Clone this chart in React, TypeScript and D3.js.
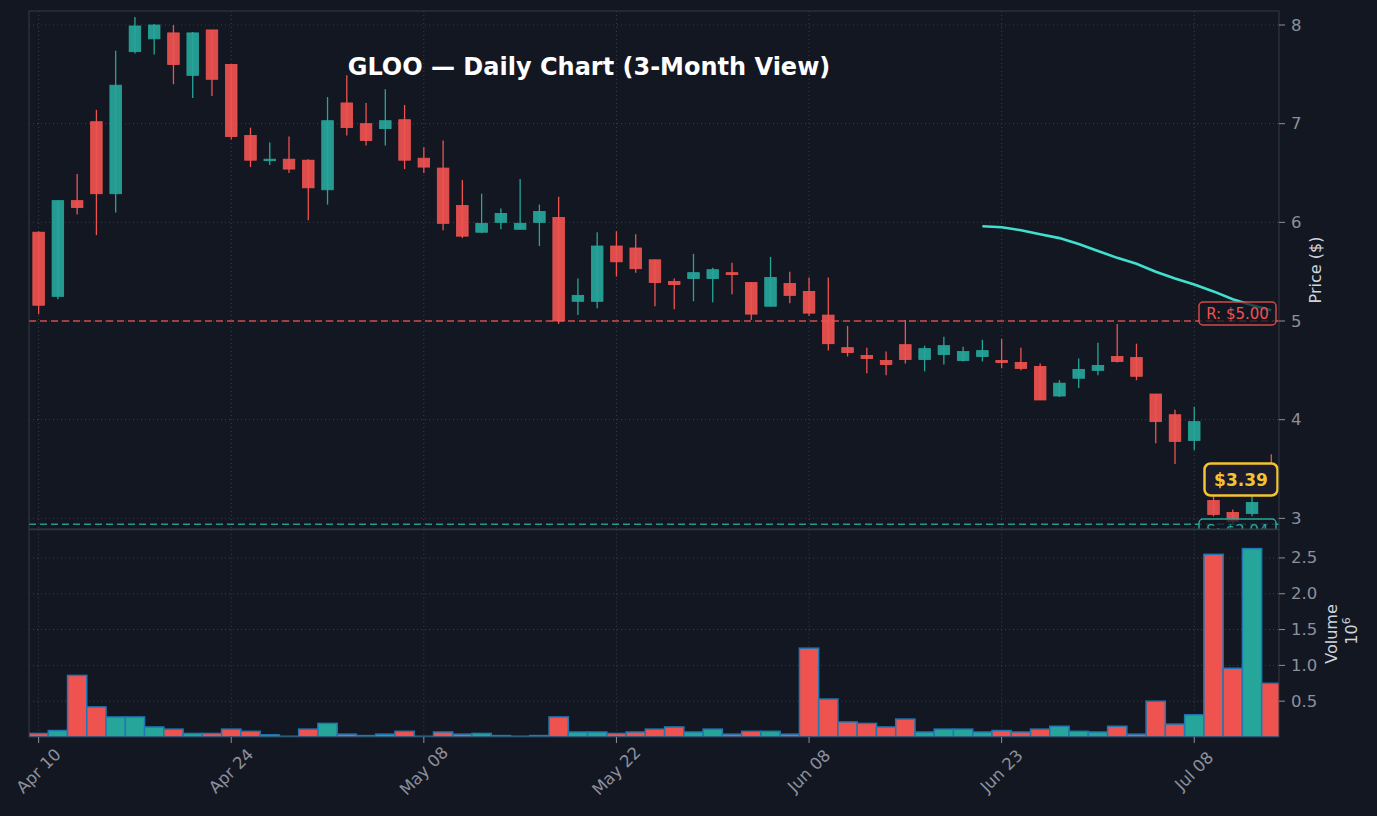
import React from 'react';
import * as d3 from 'd3';

// trading days shown on the chart
const dates = [
  'Apr 10', 'Apr 11', 'Apr 14', 'Apr 15', 'Apr 16', 'Apr 17', 'Apr 18', 'Apr 21', 'Apr 22', 'Apr 23',
  'Apr 24', 'Apr 25', 'Apr 28', 'Apr 29', 'Apr 30', 'May 01', 'May 02', 'May 05', 'May 06', 'May 07',
  'May 08', 'May 09', 'May 12', 'May 13', 'May 14', 'May 15', 'May 16', 'May 19', 'May 20', 'May 21',
  'May 22', 'May 23', 'May 27', 'May 28', 'May 29', 'May 30', 'Jun 02', 'Jun 03', 'Jun 04', 'Jun 05',
  'Jun 08', 'Jun 09', 'Jun 10', 'Jun 11', 'Jun 12', 'Jun 13', 'Jun 16', 'Jun 17', 'Jun 18', 'Jun 20',
  'Jun 23', 'Jun 24', 'Jun 25', 'Jun 26', 'Jun 27', 'Jun 30', 'Jul 01', 'Jul 02', 'Jul 03', 'Jul 07',
  'Jul 08', 'Jul 09', 'Jul 10', 'Jul 11', 'Jul 14',
];

const opens = [
  5.90, 5.25, 6.22, 7.02, 6.29, 7.73, 7.86, 7.92, 7.49, 7.95,
  7.60, 6.88, 6.63, 6.64, 6.63, 6.33, 7.21, 7.00, 6.95, 7.04,
  6.65, 6.55, 6.17, 5.90, 6.00, 5.93, 6.00, 6.05, 5.20, 5.20,
  5.76, 5.74, 5.62, 5.40, 5.43, 5.43, 5.49, 5.39, 5.15, 5.38,
  5.30, 5.06, 4.73, 4.65, 4.60, 4.76, 4.61, 4.66, 4.60, 4.64,
  4.60, 4.58, 4.54, 4.24, 4.42, 4.50, 4.64, 4.63, 4.26, 4.05,
  3.79, 3.18, 3.06, 3.05, 3.52,
];
const highs = [
  5.91, 6.22, 6.49, 7.14, 7.74, 8.08, 8.01, 8.00, 7.93, 7.95,
  7.60, 6.96, 6.81, 6.87, 6.64, 7.27, 7.49, 7.21, 7.35, 7.19,
  6.76, 6.83, 6.43, 6.29, 6.14, 6.44, 6.18, 6.26, 5.43, 5.90,
  5.91, 5.88, 5.62, 5.43, 5.68, 5.54, 5.59, 5.39, 5.65, 5.50,
  5.44, 5.44, 4.95, 4.73, 4.69, 5.01, 4.75, 4.84, 4.74, 4.81,
  4.82, 4.73, 4.57, 4.40, 4.62, 4.78, 4.97, 4.77, 4.26, 4.10,
  4.13, 3.23, 3.09, 3.23, 3.65,
];
const lows = [
  5.07, 5.22, 6.08, 5.87, 6.10, 7.71, 7.70, 7.40, 7.26, 7.28,
  6.84, 6.56, 6.58, 6.50, 6.02, 6.18, 6.88, 6.78, 6.78, 6.54,
  6.50, 5.92, 5.84, 5.89, 5.93, 5.93, 5.76, 4.97, 5.06, 5.13,
  5.45, 5.49, 5.15, 5.12, 5.20, 5.19, 5.27, 5.01, 5.15, 5.18,
  5.05, 4.70, 4.64, 4.47, 4.45, 4.57, 4.49, 4.56, 4.59, 4.59,
  4.52, 4.50, 4.20, 4.23, 4.32, 4.45, 4.58, 4.40, 3.76, 3.55,
  3.69, 3.02, 2.95, 3.02, 3.33,
];
const closes = [
  5.16, 6.22, 6.15, 6.29, 7.39, 7.99, 8.00, 7.60, 7.92, 7.45,
  6.87, 6.63, 6.64, 6.54, 6.35, 7.03, 6.96, 6.83, 7.03, 6.63,
  6.56, 5.99, 5.86, 5.99, 6.09, 5.99, 6.11, 5.00, 5.26, 5.76,
  5.60, 5.53, 5.39, 5.37, 5.49, 5.52, 5.47, 5.07, 5.44, 5.26,
  5.08, 4.77, 4.68, 4.62, 4.56, 4.61, 4.72, 4.75, 4.69, 4.70,
  4.58, 4.52, 4.20, 4.37, 4.51, 4.55, 4.59, 4.44, 3.98, 3.78,
  3.98, 3.04, 2.97, 3.16, 3.39,
];
// volume in millions of shares
const volumes = [
  0.05, 0.09, 0.86, 0.42, 0.28, 0.28, 0.14, 0.11, 0.05, 0.05,
  0.11, 0.08, 0.03, 0.01, 0.11, 0.19, 0.04, 0.02, 0.04, 0.08,
  0.01, 0.07, 0.04, 0.05, 0.02, 0.01, 0.02, 0.28, 0.07, 0.07,
  0.05, 0.07, 0.11, 0.14, 0.07, 0.11, 0.04, 0.08, 0.08, 0.04,
  1.24, 0.53, 0.21, 0.19, 0.14, 0.25, 0.07, 0.11, 0.11, 0.07,
  0.09, 0.07, 0.11, 0.15, 0.08, 0.07, 0.15, 0.04, 0.50, 0.18,
  0.31, 2.55, 0.96, 2.63, 0.75,
];
// 50-day moving average, only defined from index 49 onward
const smaStart = 49;
const sma50 = [5.96, 5.95, 5.92, 5.88, 5.84, 5.78, 5.71, 5.64, 5.58, 5.50, 5.43, 5.37, 5.30, 5.22, 5.16, 5.11];

const priceTicks = [3, 4, 5, 6, 7, 8];
const volumeTicks = [0.5, 1.0, 1.5, 2.0, 2.5];
const xTickIdx = [0, 10, 20, 30, 40, 50, 60];
const resistance = 5.0;
const support = 2.94;

const W = 1377;
const H = 816;
const left = 29;
const right = 1279;
const pTop = 11;
const pBottom = 529;
const vTop = 529.7;
const vBottom = 737;

const BG = '#131722';
const RED = '#ef5350';
const GREEN = '#26a69a';
const GRID = '#3a3f4c';
const SPINE = '#363a45';
const TICK = '#8c909c';
const LABEL = '#d1d4dc';
const GOLD = '#f4c430';
const FONT = '"DejaVu Sans", sans-serif';

const App: React.FC = () => {
  const x = d3.scaleLinear().domain([-0.5, 64.4]).range([left, right]);
  const yP = d3.scaleLinear().domain([2.892, 8.142]).range([pBottom, pTop]);
  const yV = d3.scaleLinear().domain([0, 2.894]).range([vBottom, vTop]);
  const step = x(1) - x(0);
  const bodyW = step * 0.6;

  const smaLine = d3
    .line<number>()
    .x((_, i) => x(smaStart + i))
    .y((d) => yP(d));

  const last = closes[closes.length - 1];

  return (
    <svg
      width={W}
      height={H}
      style={{ position: 'absolute', left: 0, top: 0, background: BG, fontFamily: FONT }}
    >
      <defs>
        <clipPath id="clipP">
          <rect x={left} y={pTop} width={right - left} height={pBottom - pTop} />
        </clipPath>
        <clipPath id="clipV">
          <rect x={left} y={vTop} width={right - left} height={vBottom - vTop} />
        </clipPath>
      </defs>
      <rect width={W} height={H} fill={BG} />

      {/* grid */}
      <g stroke={GRID} strokeDasharray="1,3" strokeWidth={1}>
        {priceTicks.map((t) => (
          <line key={'pg' + t} x1={left} x2={right} y1={yP(t)} y2={yP(t)} />
        ))}
        {volumeTicks.map((t) => (
          <line key={'vg' + t} x1={left} x2={right} y1={yV(t)} y2={yV(t)} />
        ))}
        {xTickIdx.map((i) => (
          <g key={'xg' + i}>
            <line x1={x(i)} x2={x(i)} y1={pTop} y2={pBottom} />
            <line x1={x(i)} x2={x(i)} y1={vTop} y2={vBottom} />
          </g>
        ))}
      </g>

      {/* price panel */}
      <g clipPath="url(#clipP)">
        <line
          x1={left} x2={right} y1={yP(resistance)} y2={yP(resistance)}
          stroke={RED} strokeOpacity={0.85} strokeWidth={1.6} strokeDasharray="7,4"
        />
        <line
          x1={left} x2={right} y1={yP(support)} y2={yP(support)}
          stroke={GREEN} strokeOpacity={0.9} strokeWidth={1.6} strokeDasharray="7,4"
        />
        {closes.map((c, i) => {
          const o = opens[i];
          const up = c >= o;
          const col = up ? GREEN : RED;
          const top = yP(Math.max(o, c));
          const bot = yP(Math.min(o, c));
          return (
            <g key={'c' + i}>
              <line x1={x(i)} x2={x(i)} y1={yP(highs[i])} y2={yP(lows[i])} stroke={col} strokeWidth={1.3} />
              <rect
                x={x(i) - bodyW / 2}
                y={top}
                width={bodyW}
                height={Math.max(bot - top, 1.5)}
                fill={col}
                fillOpacity={0.92}
                stroke={col}
                strokeWidth={0.8}
              />
            </g>
          );
        })}
        <path d={smaLine(sma50) || ''} fill="none" stroke="#40e0d0" strokeWidth={2.6} />

        {/* level labels */}
        <rect x={1199} y={302} width={77} height={23} rx={4} fill={BG} fillOpacity={0.75} stroke={RED} strokeOpacity={0.85} strokeWidth={1.5} />
        <text x={1237.5} y={313.5} fill={RED} fontSize={15} textAnchor="middle" dominantBaseline="central">
          R: ${resistance.toFixed(2)}
        </text>
        <rect x={1199} y={519} width={77} height={23} rx={4} fill={BG} fillOpacity={0.75} stroke={GREEN} strokeWidth={1.5} />
        <text x={1237.5} y={531} fill={GREEN} fontSize={15} textAnchor="middle" dominantBaseline="central">
          S: ${support.toFixed(2)}
        </text>
      </g>

      {/* last price badge */}
      <rect x={1204.5} y={463.5} width={73} height={32} rx={6} fill="#1b1d2c" stroke={GOLD} strokeWidth={2.5} />
      <text x={1241} y={480} fill={GOLD} fontSize={17} fontWeight="bold" textAnchor="middle" dominantBaseline="central">
        ${last.toFixed(2)}
      </text>

      {/* volume panel */}
      <g clipPath="url(#clipV)">
        {volumes.map((v, i) => (
          <rect
            key={'v' + i}
            x={x(i) - step / 2}
            y={yV(v)}
            width={step}
            height={vBottom - yV(v)}
            fill={closes[i] >= opens[i] ? GREEN : RED}
            stroke="#1f77b4"
            strokeWidth={1.5}
          />
        ))}
      </g>

      {/* spines */}
      <g fill="none" stroke={SPINE} strokeWidth={1}>
        <rect x={left} y={pTop} width={right - left} height={pBottom - pTop} />
        <rect x={left} y={vTop} width={right - left} height={vBottom - vTop} />
      </g>

      {/* price axis */}
      {priceTicks.map((t) => (
        <g key={'pt' + t}>
          <line x1={right} x2={right + 6} y1={yP(t)} y2={yP(t)} stroke={TICK} />
          <text x={1291} y={yP(t)} fill={TICK} fontSize={16.5} dominantBaseline="central">
            {t}
          </text>
        </g>
      ))}
      <text transform="translate(1321,270) rotate(-90)" fill={LABEL} fontSize={16} textAnchor="middle">
        Price ($)
      </text>

      {/* volume axis */}
      {volumeTicks.map((t) => (
        <g key={'vt' + t}>
          <line x1={right} x2={right + 6} y1={yV(t)} y2={yV(t)} stroke={TICK} />
          <text x={1291} y={yV(t)} fill={TICK} fontSize={16.5} dominantBaseline="central">
            {t.toFixed(1)}
          </text>
        </g>
      ))}
      <text transform="translate(1337,634) rotate(-90)" fill={LABEL} fontSize={16} textAnchor="middle">
        Volume
      </text>
      <text transform="translate(1357,631) rotate(-90)" fill={LABEL} fontSize={16} textAnchor="middle">
        10<tspan fontSize={11} dy={-7}>6</tspan>
      </text>

      {/* x axis */}
      {xTickIdx.map((i) => (
        <g key={'xt' + i}>
          <line x1={x(i)} x2={x(i)} y1={vBottom} y2={vBottom + 6} stroke={TICK} />
          <text
            transform={`translate(${x(i)},771) rotate(-45)`}
            fill={TICK}
            fontSize={16.5}
            textAnchor="middle"
            dominantBaseline="central"
          >
            {dates[i]}
          </text>
        </g>
      ))}

      {/* title */}
      <text x={589} y={75} fill="#ffffff" fontSize={24} fontWeight="bold" textAnchor="middle">
        GLOO — Daily Chart (3-Month View)
      </text>
    </svg>
  );
};

export default App;
